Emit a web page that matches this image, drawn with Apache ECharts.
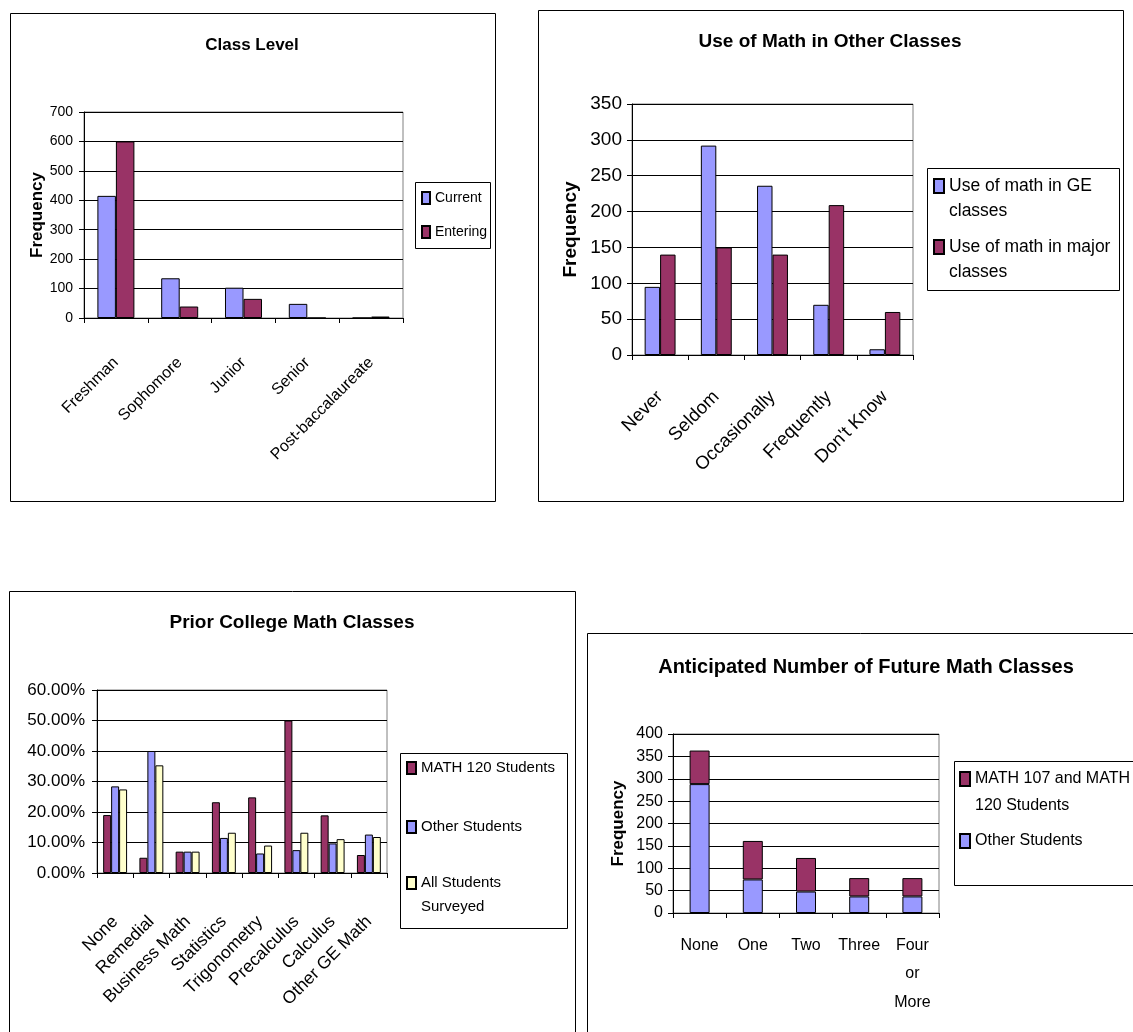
<!DOCTYPE html>
<html><head><meta charset="utf-8">
<script src="https://cdn.jsdelivr.net/npm/echarts@6/dist/echarts.min.js"></script>
<style>html,body{margin:0;padding:0;background:#fff}#c{width:1133px;height:1032px}</style>
</head><body><div id="c"></div>
<script>
// ---- Data ----
const classCats = ['Freshman', 'Sophomore', 'Junior', 'Senior', 'Post-baccalaureate'];
const classCurrent = [415, 135, 103, 48, 0];
const classEntering = [600, 39, 65, 0, 5];
const classAxis = [0, 700, 100];

const useCats = ['Never', 'Seldom', 'Occasionally', 'Frequently', "Don't Know"];
const useGE = [95, 292, 236, 70, 8];
const useMajor = [140, 150, 140, 209, 60];
const useAxis = [0, 350, 50];

const priorCats = ['None', 'Remedial', 'Business Math', 'Statistics', 'Trigonometry', 'Precalculus', 'Calculus', 'Other GE Math'];
const priorMath120 = [19.0, 5.0, 7.0, 23.2, 24.8, 50.0, 18.9, 5.9];
const priorOther = [28.4, 40.0, 7.0, 11.5, 6.4, 7.5, 9.7, 12.6];
const priorAll = [27.4, 35.3, 7.0, 13.2, 9.0, 13.2, 11.1, 11.8];
const priorAxis = [0, 60, 10];

const futureCats = ['None', 'One', 'Two', 'Three', 'Four or More'];
const futureOther = [288, 75, 48, 37, 37];
const futureMath = [75, 86, 75, 41, 41];
const futureAxis = [0, 400, 50];

const titles = ['Class Level', 'Use of Math in Other Classes', 'Prior College Math Classes', 'Anticipated Number of Future Math Classes'];

// ---- Styling ----
const FONT = '"Liberation Sans", Arial, sans-serif';
const BLUE = '#9999FF', MAROON = '#993366', CREAM = '#FFFFCC';
const legendText = {
  'Use of math in GE classes': 'Use of math in GE\nclasses',
  'Use of math in major classes': 'Use of math in major\nclasses',
  'All Students Surveyed': 'All Students\nSurveyed',
  'MATH 107 and MATH 120 Students': 'MATH 107 and MATH\n120 Students'
};

const grids = [
  {left: 84, top: 112, width: 319, height: 206},
  {left: 632, top: 104, width: 281, height: 251},
  {left: 97, top: 690, width: 290, height: 183},
  {left: 673, top: 734, width: 266, height: 179}
].map(g => Object.assign(g, {containLabel: false, outerBoundsMode: 'none', show: true, borderColor: '#808080', borderWidth: 1, backgroundColor: 'transparent'}));

function xAxis(i, data, fs, rotate, margin, extra) {
  return Object.assign({
    type: 'category', gridIndex: i, data: data,
    axisLine: {show: true, lineStyle: {color: '#000', width: 1}},
    axisTick: {show: true, length: 5, alignWithLabel: false, lineStyle: {color: '#000'}},
    axisLabel: {interval: 0, rotate: rotate, margin: margin, fontSize: fs, color: '#000', fontFamily: FONT},
    splitLine: {show: false}
  }, extra || {});
}
function yAxis(i, ax, fs, margin, name, nameGap, nameSize, fmt) {
  return {
    type: 'value', gridIndex: i, min: ax[0], max: ax[1], interval: ax[2],
    axisLine: {show: true, lineStyle: {color: '#000', width: 1}},
    axisTick: {show: true, length: 5, inside: false, lineStyle: {color: '#000'}},
    axisLabel: {fontSize: fs, margin: margin, color: '#000', fontFamily: FONT, formatter: fmt},
    splitLine: {show: true, lineStyle: {color: '#000', width: 1, type: 'solid'}},
    name: name, nameLocation: 'middle', nameGap: nameGap, nameRotate: 90, nameMoveOverlap: false,
    nameTextStyle: {fontSize: nameSize, fontWeight: 'bold', color: '#000', fontFamily: FONT}
  };
}
function bar(name, xi, data, color, gap, extra) {
  return Object.assign({
    type: 'bar', name: name, xAxisIndex: xi, yAxisIndex: xi, data: data,
    barGap: '0%', barCategoryGap: gap,
    itemStyle: {color: color, borderColor: '#000', borderWidth: 1},
    emphasis: {disabled: true}, animation: false
  }, extra || {});
}
// multi-line legend entries: a leading blank line keeps the marker level with the first line
function legendItem(name, left, yc, fs, lh, iw, ih) {
  const txt = legendText[name] || name;
  const n = txt.split('\n').length;
  const total = Math.max(ih, (2 * n - 1) * lh);
  return {
    data: [name], left: left, top: yc - total / 2, orient: 'vertical', padding: 0,
    itemWidth: iw, itemHeight: ih, itemGap: 0, icon: 'rect', selectedMode: false,
    formatter: nm => {
      const t = legendText[nm] || nm;
      const k = t.split('\n').length;
      return '\n'.repeat(k - 1) + t;
    },
    textStyle: {fontSize: fs, lineHeight: lh, color: '#000', fontFamily: FONT}
  };
}
function frame(x, y, w, h) {
  return {type: 'rect', silent: true, shape: {x: x + 0.5, y: y + 0.5, width: w, height: h},
    style: {fill: 'none', stroke: '#000', lineWidth: 1}, z: 100};
}
function titleText(t, x, y, fs) {
  return {type: 'text', silent: true, x: x, y: y,
    style: {text: t, textAlign: 'center', textVerticalAlign: 'middle', align: 'center', verticalAlign: 'middle',
      font: 'bold ' + fs + 'px ' + FONT, fill: '#000'}, z: 100};
}

const option = {
  backgroundColor: '#fff',
  animation: false,
  grid: grids,
  xAxis: [
    xAxis(0, classCats, 16, 45, 42),
    xAxis(1, useCats, 18.5, 45, 39),
    xAxis(2, priorCats, 17.5, 45, 46),
    xAxis(3, futureCats, 16, 0, 18, {axisLabel: {interval: 0, margin: 18, fontSize: 16, lineHeight: 28.5, color: '#000', fontFamily: FONT, formatter: v => v.replace(/ /g, '\n')}})
  ],
  yAxis: [
    yAxis(0, classAxis, 14, 11, 'Frequency', 38, 17),
    yAxis(1, useAxis, 19, 10, 'Frequency', 52, 19),
    yAxis(2, priorAxis, 17, 12, '', 0, 12, v => v.toFixed(2) + '%'),
    yAxis(3, futureAxis, 16, 10, 'Frequency', 46, 17)
  ],
  legend: [
    legendItem('Current', 421, 198, 14, 17, 8, 12),
    legendItem('Entering', 421, 232, 14, 17, 8, 12),
    legendItem('Use of math in GE classes', 933, 186, 17.5, 25, 10, 14),
    legendItem('Use of math in major classes', 933, 247, 17.5, 25, 10, 14),
    legendItem('MATH 120 Students', 406, 768, 15, 24, 9, 12),
    legendItem('Other Students', 406, 827, 15, 24, 9, 12),
    legendItem('All Students Surveyed', 406, 883, 15, 24, 9, 12),
    legendItem('MATH 107 and MATH 120 Students', 959, 779, 16, 27, 10, 14),
    legendItem('Other Students', 959, 841, 16, 27, 10, 14)
  ],
  series: [
    bar('Current', 0, classCurrent, BLUE, '42%'),
    bar('Entering', 0, classEntering, MAROON, '42%'),
    bar('Use of math in GE classes', 1, useGE, BLUE, '45%'),
    bar('Use of math in major classes', 1, useMajor, MAROON, '45%'),
    bar('MATH 120 Students', 2, priorMath120, MAROON, '34%'),
    bar('Other Students', 2, priorOther, BLUE, '34%'),
    bar('All Students Surveyed', 2, priorAll, CREAM, '34%'),
    bar('Other Students', 3, futureOther, BLUE, null, {stack: 'future', barWidth: 20, barCategoryGap: null}),
    bar('MATH 107 and MATH 120 Students', 3, futureMath, MAROON, null, {stack: 'future', barWidth: 20, barCategoryGap: null})
  ],
  graphic: {elements: [
    frame(10, 13, 485, 488),
    frame(538, 10, 585, 491),
    frame(9, 591, 566, 460),
    frame(587, 633, 560, 420),
    frame(415, 182, 75, 66),
    frame(927, 168, 192, 122),
    frame(400, 753, 167, 175),
    frame(954, 761, 200, 124),
    titleText(titles[0], 252, 45, 17),
    titleText(titles[1], 830, 42, 19),
    titleText(titles[2], 292, 623, 19),
    titleText(titles[3], 866, 667, 20)
  ]}
};
const chart = echarts.init(document.getElementById('c'), null, {renderer: 'canvas'});
chart.setOption(option);
</script></body></html>
